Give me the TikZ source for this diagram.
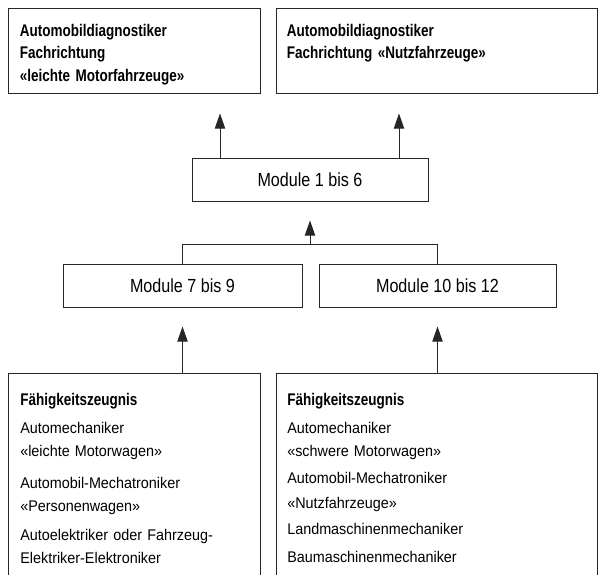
\documentclass[tikz,border=0pt]{standalone}
\usepackage{fontspec}
\setmainfont{Liberation Sans}[FakeStretch=0.93]
\newfontfamily\headfont{Liberation Sans}[FakeStretch=0.8]
\newfontfamily\modfont{Liberation Sans}[FakeStretch=0.85]
\usetikzlibrary{arrows.meta}

\begin{document}
\begin{tikzpicture}[
  box/.style={draw=black!85, line width=0.7pt, inner sep=0pt, font=\fontsize{13.5}{16}\selectfont\modfont},
  txt/.style={align=left, inner sep=0pt, anchor=north west, text width=7.5cm, font=\fontsize{11}{16.3}\selectfont},
  head/.style={txt, font=\fontsize{12}{16.3}\selectfont\headfont\bfseries},
  conn/.style={draw=black!85, line width=0.7pt},
  arr/.style={conn, -{Triangle[length=0.38cm,width=0.26cm]}}]
\useasboundingbox (0,0) rectangle (15.125,-14.375);
\clip (0,0) rectangle (15.125,-14.375);

% Abschluesse oben
\node[box, minimum width=6.3cm, minimum height=2.125cm] (dleicht) at (3.35,-1.2625) {};
\node[box, minimum width=8.025cm, minimum height=2.125cm] (dnutz) at (10.9125,-1.2625) {};
\node[head] (tleicht) at ([shift={(0.3cm,-0.4cm)}]dleicht.north west)
  {Automobildiagnostiker\\ Fachrichtung\\ «leichte Motorfahrzeuge»};
\node[head] (tnutz) at ([shift={(0.275cm,-0.4cm)}]dnutz.north west)
  {Automobildiagnostiker\\ Fachrichtung «Nutzfahrzeuge»};

% Module
\node[box, minimum width=5.9cm, minimum height=1.075cm] (m1) at (7.75,-4.4875) {Module 1 bis 6};
\node[box, minimum width=5.975cm, minimum height=1.075cm] (m7) at (4.5625,-7.1375) {Module 7 bis 9};
\node[box, minimum width=5.925cm, minimum height=1.075cm] (m10) at (10.9375,-7.1375) {Module 10 bis 12};

% Faehigkeitszeugnisse (unten offen)
\node[box, anchor=north west, minimum width=6.3cm, minimum height=6cm] (fleicht) at (0.2,-9.325) {};
\node[box, anchor=north west, minimum width=8.025cm, minimum height=6cm] (fschwer) at (6.9,-9.325) {};
\node[txt] (zleicht) at ([shift={(0.3cm,-0.5cm)}]fleicht.north west)
  {{\fontsize{12}{16.3}\selectfont\headfont\bfseries Fähigkeitszeugnis}\\[3.6pt]
   Automechaniker\\ «leichte Motorwagen»\\[6.4pt]
   Automobil-Mechatroniker\\ «Personenwagen»\\[4.3pt]
   Autoelektriker oder Fahrzeug-\\ Elektriker-Elektroniker};
\node[txt] (zschwer) at ([shift={(0.275cm,-0.5cm)}]fschwer.north west)
  {{\fontsize{12}{16.3}\selectfont\headfont\bfseries Fähigkeitszeugnis}\\[3.6pt]
   Automechaniker\\ «schwere Motorwagen»\\[2.8pt]
   Automobil-Mechatroniker\\[1.4pt] «Nutzfahrzeuge»\\[2.8pt]
   Landmaschinenmechaniker\\[3.6pt]
   Baumaschinenmechaniker};

% Verbindungen
\coordinate (pl) at ([xshift=-2.25cm]m1.north);
\coordinate (pr) at ([xshift=2.225cm]m1.north);
\draw[arr, shorten >=0.5cm] (pl) -- (pl |- dleicht.south);
\draw[arr, shorten >=0.5cm] (pr) -- (pr |- dnutz.south);
\coordinate (join) at ([yshift=0.475cm]m7.north -| m1.south);
\draw[conn] (m7.north) |- (join) -| (m10.north);
\draw[arr, shorten >=0.475cm] (join) -- (m1.south);
\draw[arr, shorten >=0.475cm] (fleicht.north -| m7.south) -- (m7.south);
\draw[arr, shorten >=0.475cm] (fschwer.north -| m10.south) -- (m10.south);
\end{tikzpicture}
\end{document}
